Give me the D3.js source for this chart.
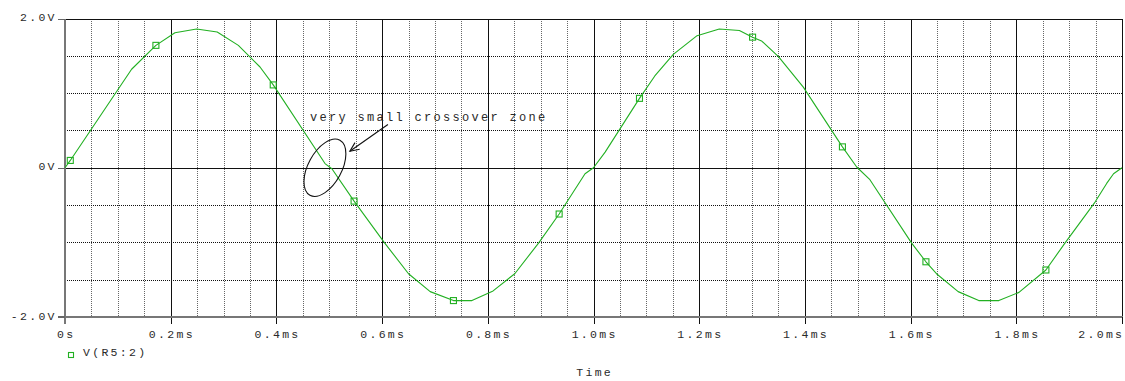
<!DOCTYPE html>
<html><head><meta charset="utf-8">
<script src="https://cdn.jsdelivr.net/npm/d3@7/dist/d3.min.js"></script>
<style>
html,body{margin:0;padding:0;background:#fff;}
svg{display:block;}
text{font-family:"Liberation Mono","Courier New",monospace;fill:#2a2a2a;}
</style></head><body>
<svg id="chart" width="1125" height="381"></svg>
<script>
// ---- data (time in ms, value in V) ----
const timeMs = [0.000,0.010,0.126,0.172,0.208,0.249,0.288,0.328,0.369,0.394,
  0.492,0.505,0.547,0.605,0.650,0.691,0.735,0.770,0.810,0.851,0.896,0.935,0.984,1.000,
  1.022,1.087,1.116,1.151,1.196,1.238,1.276,1.301,1.318,1.350,1.397,1.471,1.498,
  1.523,1.602,1.629,1.649,1.690,1.729,1.767,1.805,1.856,1.892,1.949,1.971,1.984,2.000];
const voltage = [0.000,0.098,1.32,1.64,1.81,1.86,1.82,1.64,1.35,1.11,
  0.056,-0.013,-0.447,-1.01,-1.42,-1.66,-1.78,-1.78,-1.65,-1.42,-1.01,-0.62,-0.08,0.00,
  0.21,0.93,1.23,1.52,1.77,1.86,1.84,1.75,1.70,1.49,1.08,0.28,0.01,
  -0.16,-1.01,-1.26,-1.42,-1.66,-1.78,-1.78,-1.67,-1.37,-1.01,-0.46,-0.21,-0.08,0.00];
const markerTimes = [0.010,0.172,0.394,0.547,0.735,0.935,1.087,1.301,1.471,1.629,1.856];
const seriesName = "V(R5:2)";

const xTicks = [0,0.2,0.4,0.6,0.8,1.0,1.2,1.4,1.6,1.8,2.0];
const xTickLabels = ["0s","0.2ms","0.4ms","0.6ms","0.8ms","1.0ms","1.2ms","1.4ms","1.6ms","1.8ms","2.0ms"];
const xMinorStep = 0.05;
const yTicks = [2.0,0,-2.0];
const yTickLabels = ["2.0V","0V","-2.0V"];
const yMinorStep = 0.5;
const xTitle = "Time";

const annotationText = "very small crossover zone";
const annotationTextAt = [0.4636, 0.626];
const arrowFrom = [0.611, 0.58];
const arrowTo = [0.539, 0.222];
const ellipseCenter = [0.4918, 0.0];

// ---- layout ----
const pL = 65, pR = 1122, pT = 18.5, pB = 317;
const green = "#22b022";
const svg = d3.select("#chart");

const x = d3.scaleLinear().domain([0, 2]).range([pL, pR]);
const y = d3.scaleLinear().domain([-2, 2]).range([pB, pT]);
const px = v => Math.round(v) + 0.5;

const grid = svg.append("g").attr("shape-rendering", "crispEdges");

// minor vertical dotted
const xMinor = d3.range(0, 2.0001, xMinorStep).filter(t => Math.abs(t/0.2 - Math.round(t/0.2)) > 1e-6);
grid.selectAll(".xminor").data(xMinor).join("line")
  .attr("x1", d => px(x(d))).attr("x2", d => px(x(d)))
  .attr("y1", pT).attr("y2", pB)
  .attr("stroke", "#666").attr("stroke-width", 1).attr("stroke-dasharray", "1,1");

// minor horizontal dotted
const yMinor = d3.range(-2, 2.0001, yMinorStep).filter(v => Math.abs(v) > 1e-6 && Math.abs(Math.abs(v) - 2) > 1e-6);
grid.selectAll(".yminor").data(yMinor).join("line")
  .attr("x1", pL).attr("x2", pR)
  .attr("y1", d => px(y(d))).attr("y2", d => px(y(d)))
  .attr("stroke", "#111").attr("stroke-width", 1).attr("stroke-dasharray", "1,1");

// major vertical lines (extend as ticks)
grid.selectAll(".xmajor").data(xTicks.filter(t => t > 0 && t < 2)).join("line")
  .attr("x1", d => px(x(d))).attr("x2", d => px(x(d)))
  .attr("y1", pT).attr("y2", pB + 6.5)
  .attr("stroke", "#111").attr("stroke-width", 1);

// zero line
grid.append("line").attr("x1", pL).attr("x2", pR)
  .attr("y1", px(y(0))).attr("y2", px(y(0))).attr("stroke", "#111");

// frame: top & right black, left & bottom gray
grid.append("line").attr("x1", pL).attr("x2", pR).attr("y1", px(pT)).attr("y2", px(pT)).attr("stroke", "#111");
grid.append("line").attr("x1", px(pR)).attr("x2", px(pR)).attr("y1", pT).attr("y2", pB).attr("stroke", "#111");
grid.append("line").attr("x1", pL).attr("x2", pL).attr("y1", pT).attr("y2", pB + 1).attr("stroke", "#777").attr("stroke-width", 2);
grid.append("line").attr("x1", pL - 1).attr("x2", pR + 1).attr("y1", pB).attr("y2", pB).attr("stroke", "#777").attr("stroke-width", 2);
// end ticks x at 0 and 2.0
grid.selectAll(".xend").data([0, 2]).join("line")
  .attr("x1", d => d === 0 ? pL : px(x(d))).attr("x2", d => d === 0 ? pL : px(x(d)))
  .attr("y1", pB).attr("y2", pB + 6.5)
  .attr("stroke", d => d === 0 ? "#777" : "#111").attr("stroke-width", d => d === 0 ? 2 : 1);

// y ticks
grid.selectAll(".ytick").data(yTicks).join("line")
  .attr("x1", pL - 7).attr("x2", pL)
  .attr("y1", d => d === 0 ? px(y(d)) : (d > 0 ? px(pT) : pB))
  .attr("y2", d => d === 0 ? px(y(d)) : (d > 0 ? px(pT) : pB))
  .attr("stroke", "#666").attr("stroke-width", 1.5);

// axis labels
const FS = 11.5, LS = 2.3;
svg.selectAll(".xlab").data(xTicks).join("text")
  .attr("x", (d, i) => i === xTicks.length - 1 ? pR + LS : x(d) + LS / 2)
  .attr("y", 337.5)
  .attr("text-anchor", (d, i) => i === xTicks.length - 1 ? "end" : "middle")
  .style("font-size", FS + "px").style("letter-spacing", LS + "px")
  .text((d, i) => xTickLabels[i]);

svg.selectAll(".ylab").data(yTicks).join("text")
  .attr("x", 54.5 + LS)
  .attr("y", d => y(d) + 2.5)
  .attr("text-anchor", "end")
  .style("font-size", FS + "px").style("letter-spacing", LS + "px")
  .text((d, i) => yTickLabels[i]);

svg.append("text").attr("x", (pL + pR) / 2 + LS / 2).attr("y", 375.5)
  .attr("text-anchor", "middle")
  .style("font-size", FS + "px").style("letter-spacing", LS + "px")
  .text(xTitle);

// series
const pts = timeMs.map((t, i) => [t, voltage[i]]);
const line = d3.line().x(d => x(d[0])).y(d => y(d[1]));
svg.append("path").attr("d", line(pts))
  .attr("fill", "none").attr("stroke", green).attr("stroke-width", 1.1)
  .attr("stroke-linejoin", "round");

const mpts = markerTimes.map(t => pts.find(p => Math.abs(p[0] - t) < 1e-9));
const ms = 6;
svg.selectAll(".mk").data(mpts).join("rect")
  .attr("x", d => x(d[0]) - ms / 2).attr("y", d => y(d[1]) - ms / 2)
  .attr("width", ms).attr("height", ms)
  .attr("fill", "none").attr("stroke", green).attr("stroke-width", 1.1);

// legend
svg.append("rect").attr("x", 68.5).attr("y", 352.5).attr("width", 5).attr("height", 5)
  .attr("fill", "none").attr("stroke", green).attr("stroke-width", 1.1);
svg.append("text").attr("x", 83).attr("y", 356)
  .style("font-size", FS + "px").style("letter-spacing", LS + "px")
  .text(seriesName);

// annotation
svg.append("text").attr("x", x(annotationTextAt[0])).attr("y", y(annotationTextAt[1]))
  .style("font-size", "12px").style("letter-spacing", "2.3px")
  .text(annotationText);

svg.append("ellipse")
  .attr("cx", 0).attr("cy", 0).attr("rx", 31.3).attr("ry", 16.7)
  .attr("transform", `translate(${x(ellipseCenter[0])},${y(ellipseCenter[1])}) rotate(-61.4)`)
  .attr("fill", "none").attr("stroke", "#111").attr("stroke-width", 1.1);

const ax1 = x(arrowFrom[0]), ay1 = y(arrowFrom[1]);
const ax2 = x(arrowTo[0]), ay2 = y(arrowTo[1]);
svg.append("line").attr("x1", ax1).attr("y1", ay1).attr("x2", ax2).attr("y2", ay2)
  .attr("stroke", "#111").attr("stroke-width", 1.1);
const ang = Math.atan2(ay2 - ay1, ax2 - ax1);
const hl = 10, ha = 0.42;
const head = [
  [ax2 - hl * Math.cos(ang - ha), ay2 - hl * Math.sin(ang - ha)],
  [ax2, ay2],
  [ax2 - hl * Math.cos(ang + ha), ay2 - hl * Math.sin(ang + ha)]
];
svg.append("path").attr("d", d3.line()(head))
  .attr("fill", "none").attr("stroke", "#111").attr("stroke-width", 1.1);
</script>
</body></html>
